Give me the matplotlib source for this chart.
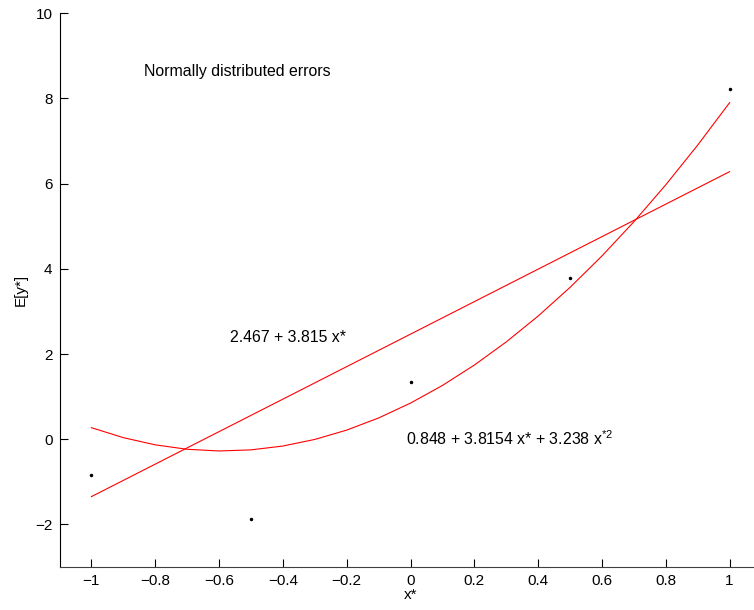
import matplotlib
matplotlib.use("Agg")
import matplotlib.pyplot as plt

plt.rcParams['font.family'] = ['Liberation Sans', 'DejaVu Sans']
plt.rcParams['mathtext.fontset'] = 'custom'
plt.rcParams['mathtext.rm'] = 'Liberation Sans'
plt.rcParams['mathtext.it'] = 'Liberation Sans'
plt.rcParams['mathtext.default'] = 'regular'

# observed points
obs_x = [-1.0, -0.5, 0.0, 0.5, 1.0]
obs_y = [-0.85, -1.87, 1.35, 3.78, 8.22]

# linear fit line (endpoints)
lin_x = [-1.0, 1.0]
lin_y = [-1.348, 6.282]

# quadratic fit curve sampled at -1:0.1:1
quad_x = [-1.0, -0.9, -0.8, -0.7, -0.6, -0.5, -0.4, -0.3, -0.2, -0.1, 0.0,
          0.1, 0.2, 0.3, 0.4, 0.5, 0.6, 0.7, 0.8, 0.9, 1.0]
quad_y = [0.271, 0.037, -0.132, -0.236, -0.276, -0.250, -0.160, -0.005, 0.214,
          0.499, 0.848, 1.262, 1.741, 2.284, 2.892, 3.565, 4.303, 5.105,
          5.973, 6.905, 7.901]

xticks = [-1, -0.8, -0.6, -0.4, -0.2, 0, 0.2, 0.4, 0.6, 0.8, 1]
xticklabels = ['\u22121', '\u22120.8', '\u22120.6', '\u22120.4', '\u22120.2', '0',
               '0.2', '0.4', '0.6', '0.8', '1']
yticks = [-2, 0, 2, 4, 6, 8, 10]
yticklabels = ['\u22122', '0', '2', '4', '6', '8', '10']

FS = 11
FS_TXT = 11.4

fig = plt.figure(figsize=(7.54, 6.10), dpi=100)
ax = fig.add_axes([59.5 / 754, 43 / 610, 702 / 754, (567 - 13.3) / 610])

ax.plot(lin_x, lin_y, color='red', lw=0.8)
ax.plot(quad_x, quad_y, color='red', lw=0.8)
ax.plot(obs_x, obs_y, 'k.', markersize=3)

ax.set_xlim(-1.1, 1.1)
ax.set_ylim(-3, 10)
ax.set_xticks(xticks)
ax.set_xticklabels(xticklabels)
ax.set_yticks(yticks)
ax.set_yticklabels(yticklabels)
ax.tick_params(direction='in', length=6, width=0.8, labelsize=FS, pad=5)
for s in ['top', 'right']:
    ax.spines[s].set_visible(False)
ax.spines['left'].set_linewidth(0.8)
ax.spines['bottom'].set_linewidth(0.8)
ax.spines['bottom'].set_color('#404040')

ax.set_xlabel('x*', fontsize=FS, labelpad=0)
ax.set_ylabel('E[y*]', fontsize=FS, labelpad=5)

ax.text(-0.834, 8.64, 'Normally distributed errors', fontsize=FS_TXT, va='center', ha='left')
ax.text(-0.567, 2.4, '2.467 + 3.815 x*', fontsize=FS_TXT, va='center', ha='left')
ax.text(-0.015, 0.02, '0.848 + 3.8154 x* + 3.238 x$^{*2}$', fontsize=FS_TXT, va='center', ha='left')

fig.savefig('out.png', dpi=100)
